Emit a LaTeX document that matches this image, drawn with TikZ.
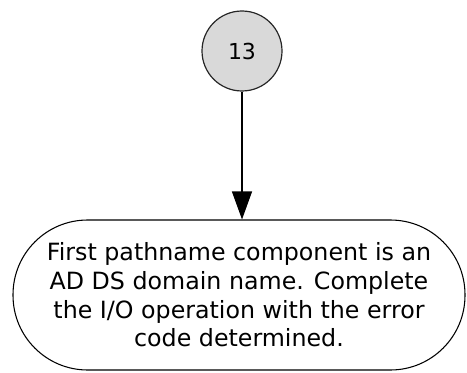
\documentclass[tikz,border=0pt]{standalone}
\usepackage{fontspec}
\setmainfont{DejaVu Sans}
\usepackage{tikz}
\usetikzlibrary{arrows.meta}
\definecolor{stepgray}{RGB}{217,217,217}
\tikzstyle{stepnode}=[draw=black!85,%
                      fill=stepgray,%
                      circle,%
                      line width=0.9pt,%
                      inner sep=0pt,%
                      minimum size=60pt,%
                      font=\fontsize{16.5}{19}\selectfont]
\tikzstyle{endnode}=[draw,rectangle,rounded corners=56pt,line width=0.8pt,%
                     minimum width=339pt,minimum height=112.5pt,align=center,%
                     font=\fontsize{17.8}{21.5}\selectfont,node distance=183pt]

\begin{document}
\begin{tikzpicture}[x=0.75pt,y=0.75pt]
            \useasboundingbox (0,0) rectangle (467,372);
            \node[stepnode] (s13) at (242,321) {13};
            \node[endnode][below of=s13,xshift=-2.25pt] (done) {First pathname component is an\\AD DS domain name. Complete\\the I/O operation with the error\\code determined.};
            \draw [-{Triangle[width=15pt,length=21pt]},line width=0.9pt] (s13.south) -- (s13.south |- done.north);
\end{tikzpicture}
\end{document}
